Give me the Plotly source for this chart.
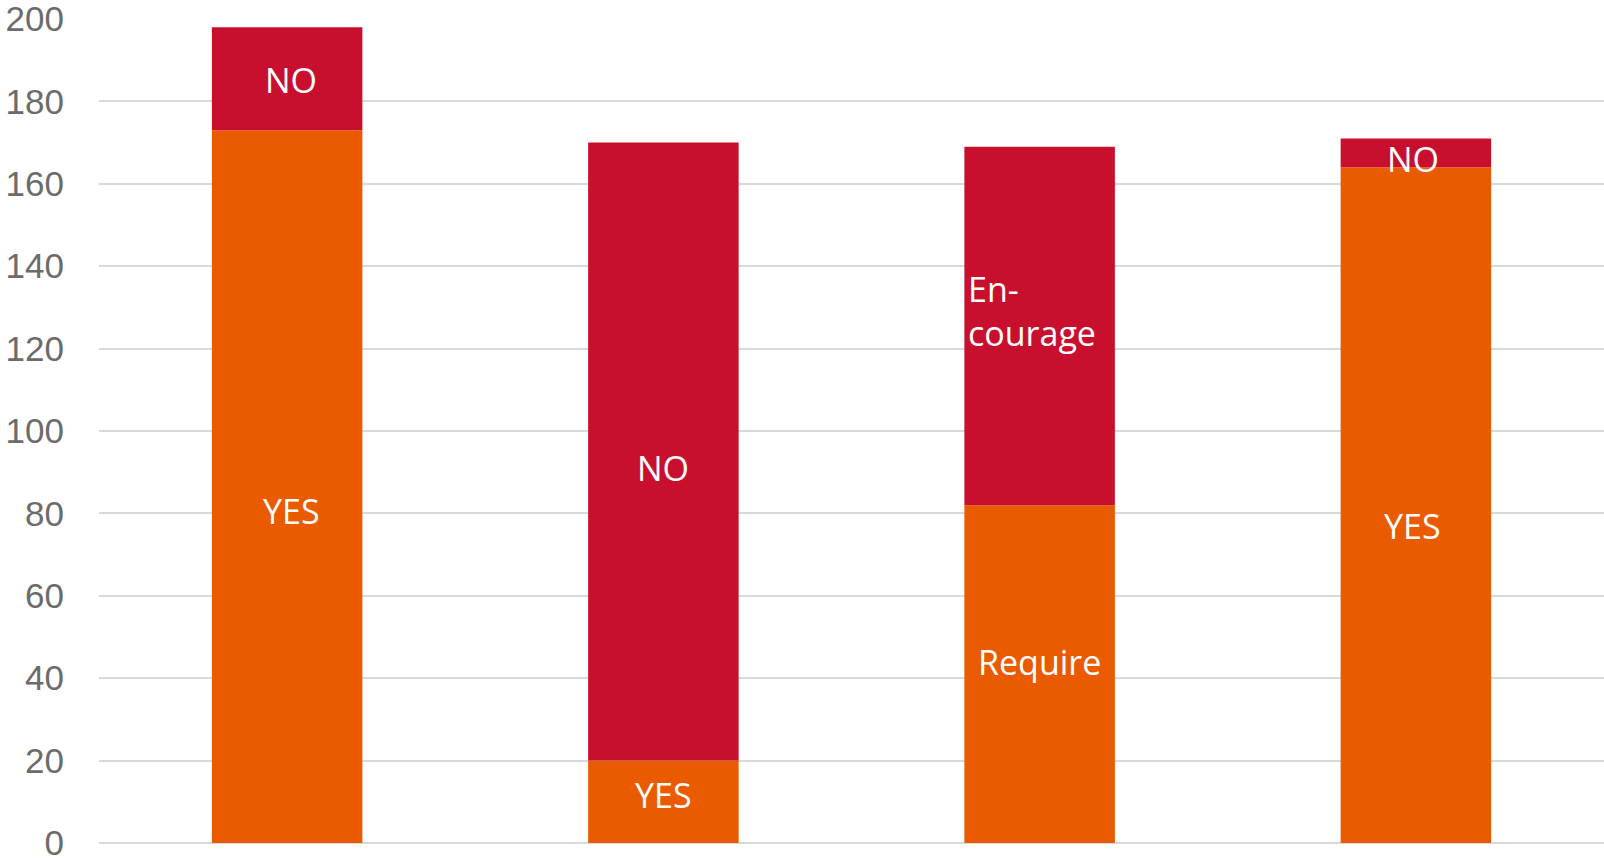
import plotly.graph_objects as go

categories = [0, 1, 2, 3]
bottom_values = [173, 20, 82, 164]
top_values = [25, 150, 87, 7]
bottom_labels = ["YES", "YES", "Require", "YES"]
top_labels = ["NO", "NO", "En-<br>courage", "NO"]
y_ticks = [0, 20, 40, 60, 80, 100, 120, 140, 160, 180, 200]

ORANGE = "#EA5B00"
RED = "#C8102E"
BAR_W = 0.4
# small pixel nudges of the in-bar labels (styling only)
BOTTOM_SHIFT = [-24, 7, 12, -21]
TOP_SHIFT = [-1, -16, 15, -6]
X_SHIFT = [4, 0, 0, -3]

fig = go.Figure()
fig.add_trace(go.Bar(x=categories, y=bottom_values, marker=dict(color=ORANGE, line=dict(width=0)),
                     width=BAR_W, hoverinfo="skip"))
fig.add_trace(go.Bar(x=categories, y=top_values, base=bottom_values,
                     marker=dict(color=RED, line=dict(width=0)), width=BAR_W, hoverinfo="skip"))

label_font = dict(family="Open Sans", size=34, color="white")
annotations = []
for i, c in enumerate(categories):
    annotations.append(dict(x=c, y=bottom_values[i] / 2, text=bottom_labels[i], showarrow=False,
                            font=label_font, xref="x", yref="y", yshift=BOTTOM_SHIFT[i],
                            xshift=X_SHIFT[i]))
    if "<br>" in top_labels[i]:
        annotations.append(dict(x=c - BAR_W / 2, y=bottom_values[i] + top_values[i] / 2,
                                text=top_labels[i], showarrow=False, font=label_font,
                                xanchor="left", align="left", xshift=2, xref="x", yref="y",
                                yshift=TOP_SHIFT[i]))
    else:
        annotations.append(dict(x=c, y=bottom_values[i] + top_values[i] / 2, text=top_labels[i],
                                showarrow=False, font=label_font, xref="x", yref="y",
                                yshift=TOP_SHIFT[i], xshift=X_SHIFT[i]))

fig.update_layout(
    width=1604, height=858,
    barmode="overlay",
    showlegend=False,
    plot_bgcolor="white", paper_bgcolor="white",
    margin=dict(l=99, r=0, t=19, b=15, autoexpand=False),
    annotations=annotations,
    xaxis=dict(range=[-0.5, 3.5], showticklabels=False, showgrid=False, zeroline=False,
               showline=False, ticks="", automargin=False),
    yaxis=dict(range=[0, 200], tickvals=y_ticks, showgrid=True, gridcolor="#D9D9D9", gridwidth=1.5,
               zeroline=True, zerolinecolor="#D9D9D9", zerolinewidth=1.5, showline=False,
               tickfont=dict(family="Liberation Sans", size=35, color="#6B6B6B"),
               ticklabelstandoff=34, ticklabeloverflow="allow", automargin=False),
)

fig.write_html("out.html", config={"displayModeBar": False},
               post_script="document.body.style.margin='0';document.body.style.overflow='hidden';")
